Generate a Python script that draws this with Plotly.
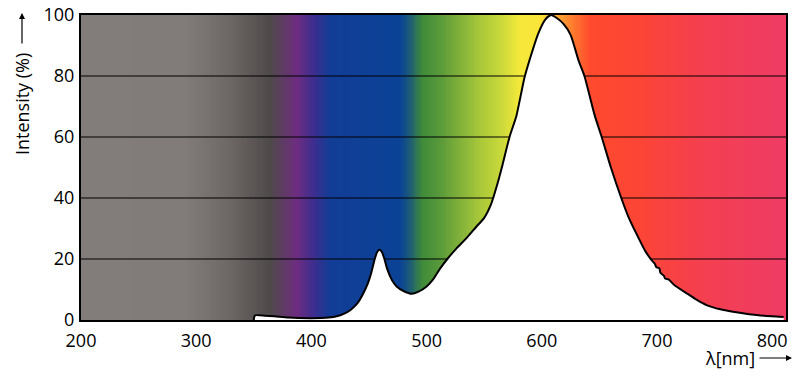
import plotly.graph_objects as go

# ---- data ----
wavelength = [350, 351, 360, 368, 380, 400, 415, 422, 428, 434, 440, 445, 449, 452,
              455, 457, 459, 461, 463, 466, 470, 474, 480, 487, 493, 500, 506, 512,
              518, 526, 535, 543, 550, 556, 561, 566, 572, 578, 585, 590, 597, 603,
              608, 613, 619, 625, 632, 637, 646, 652, 660, 669, 675, 682, 690, 695,
              698, 699.5, 702, 703, 706, 707, 710, 715, 726, 735, 743, 755, 766, 780,
              790, 800, 810]
intensity = [0, 1.5, 1.4, 1.2, 0.8, 0.6, 0.8, 1.2, 2.0, 3.3, 5.5, 8.7, 12, 15.5,
             20, 22.2, 23, 22.4, 20.5, 16.5, 13, 11, 9.5, 8.6, 9.3, 11, 13.5, 17,
             20, 23.5, 27, 30.5, 33.5, 38, 44, 51, 60, 67, 79.5, 86, 94, 98.5,
             100, 99, 97, 93.5, 85, 80, 67, 60, 50, 40, 34, 28.4, 22.5, 19.8,
             18.5, 17.3, 17, 15.5, 14.5, 13.6, 13.3, 11.5, 8.7, 6.5, 4.9, 3.5, 2.7, 1.9,
             1.5, 1.2, 1.0]

x_ticks = [200, 300, 400, 500, 600, 700, 800]
y_ticks = [0, 20, 40, 60, 80, 100]
grid_levels = [20, 40, 60, 80]

X_MIN, X_MAX = 200, 812
Y_MIN, Y_MAX = 0, 100

# background spectrum colour stops (wavelength, colour)
spectrum_stops = [
    (200, "#827d7b"), (290, "#817c7a"), (305, "#7a7472"), (330, "#6c6664"),
    (364, "#4f4a4a"), (375, "#5e3d63"), (387, "#6e2c80"), (403, "#3a2e8e"),
    (416, "#123d96"), (477, "#0a4296"), (485, "#1b5a7a"), (496, "#3f8a3a"),
    (512, "#5a9a3a"), (546, "#a8c83a"), (564, "#c8d83a"), (581, "#f5e83a"),
    (598, "#fbe53a"), (616, "#ffa030"), (642, "#ff4a2e"), (685, "#fc4535"),
    (737, "#f43f4f"), (812, "#ee3c65"),
]

colorscale = [[(w - X_MIN) / (X_MAX - X_MIN), c] for w, c in spectrum_stops]
bg_x = list(range(X_MIN, X_MAX + 1))
bg_centers = [v + 0.5 for v in bg_x[:-1]]

fig = go.Figure()

fig.add_trace(go.Heatmap(
    x=bg_x, y=[Y_MIN, Y_MAX], z=[bg_centers],
    colorscale=colorscale, zmin=X_MIN, zmax=X_MAX,
    showscale=False, hoverinfo="skip",
))

gx, gy = [], []
for g in grid_levels:
    gx += [X_MIN, X_MAX, None]
    gy += [g, g, None]
fig.add_trace(go.Scatter(x=gx, y=gy, mode="lines",
                         line=dict(color="black", width=1),
                         hoverinfo="skip", showlegend=False))

fig.add_trace(go.Scatter(
    x=wavelength, y=intensity, mode="lines",
    line=dict(color="black", width=2, shape="spline", smoothing=0.6),
    fill="tozeroy", fillcolor="white", showlegend=False,
))

FAM = "Open Sans, Noto Sans, sans-serif"
font = dict(family=FAM, size=18, color="black")

fig.update_layout(
    width=800, height=376,
    margin=dict(l=81, r=14, t=15, b=56, autoexpand=False),
    paper_bgcolor="white", plot_bgcolor="white",
    font=font, showlegend=False,
    xaxis=dict(range=[X_MIN, X_MAX], tickvals=x_ticks, showgrid=False,
               zeroline=False, showline=True, linecolor="black", linewidth=2,
               mirror=True, ticks="", tickfont=font, automargin=False,
               ticklabelstandoff=3),
    yaxis=dict(range=[Y_MIN, Y_MAX], tickvals=y_ticks, showgrid=False,
               zeroline=False, showline=True, linecolor="black", linewidth=2,
               mirror=True, ticks="", tickfont=font, automargin=False,
               ticklabelstandoff=1),
    annotations=[
        dict(text="Intensity (%)", xref="paper", yref="paper",
             x=-0.0837, y=0.708, xanchor="center", yanchor="middle",
             showarrow=False, textangle=-90,
             font=dict(family=FAM, size=18, color="black")),
        dict(text="", xref="paper", yref="paper", x=-0.0837, y=1.0066,
             ax=0, ay=32, showarrow=True, arrowhead=2, arrowsize=1,
             arrowwidth=1.2, arrowcolor="black"),
        dict(text="λ[nm]", xref="paper", yref="paper",
             x=0.9206, y=-0.1246, xanchor="center", yanchor="middle",
             showarrow=False,
             font=dict(family=FAM, size=18, color="black")),
        dict(text="", xref="paper", yref="paper", x=1.0085, y=-0.1246,
             ax=-34, ay=0, showarrow=True, arrowhead=2, arrowsize=1,
             arrowwidth=1.2, arrowcolor="black"),
    ],
)

fig.write_html("out.html", config={"displayModeBar": False},
               post_script="document.body.style.margin='0';document.body.style.padding='0';")
